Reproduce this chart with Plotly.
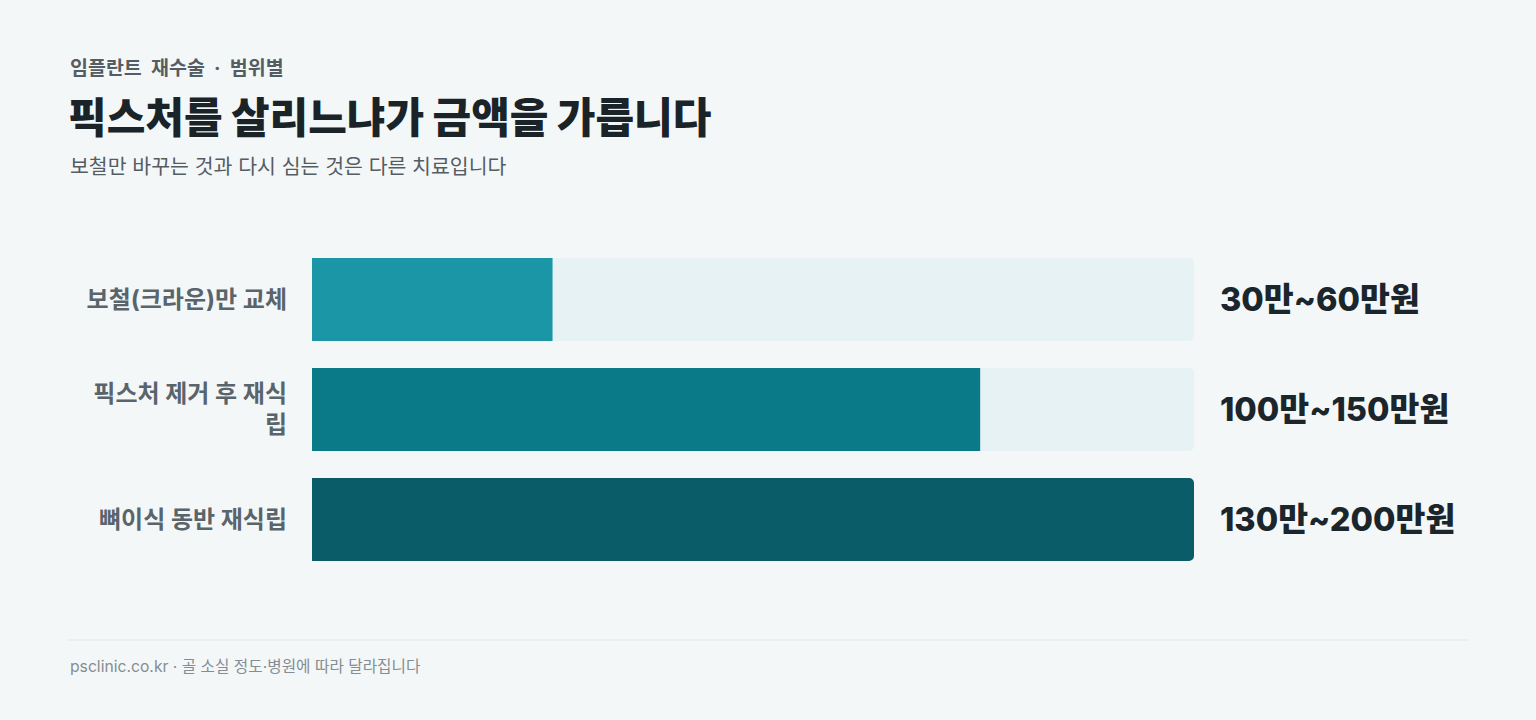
import plotly.graph_objects as go

# DATA
categories = ["보철(크라운)만 교체", "픽스처 제거 후 재식<br>립", "뼈이식 동반 재식립"]
low_values = [30, 100, 130]      # 만원
high_values = [60, 150, 200]     # 만원
mid_values = [(lo + hi) / 2 for lo, hi in zip(low_values, high_values)]
value_labels = ["30만~60만원", "100만~150만원", "130만~200만원"]
bar_colors = ["#1b96a6", "#0b7a88", "#095c68"]

W, H = 1536, 720
BG = "#f4f7f8"
KR = "Inter, 'Noto Sans CJK KR', sans-serif"

track_max = max(mid_values)

fig = go.Figure()

# track (light background bar)
fig.add_trace(go.Bar(
    y=categories, x=[track_max] * len(categories), orientation="h",
    marker=dict(color="#e7f2f4", line=dict(width=0)),
    width=0.755, hoverinfo="skip", showlegend=False,
))
# value bar (midpoint of the range)
fig.add_trace(go.Bar(
    y=categories, x=mid_values, orientation="h",
    marker=dict(color=bar_colors, line=dict(width=0)),
    width=0.755, showlegend=False,
    customdata=value_labels,
    hovertemplate="%{y}: %{customdata}<extra></extra>",
))

for cat, lab in zip(categories, value_labels):
    fig.add_annotation(
        x=track_max, y=cat, xref="x", yref="y", text=lab,
        xanchor="left", yanchor="middle", xshift=24, showarrow=False,
        font=dict(family=KR, size=32.5, color="#1a262c", weight=800),
    )

# header texts
fig.add_annotation(x=68 / W, y=1 - 68 / H, xref="paper", yref="paper",
                   text="임플란트\u00a0\u00a0재수술\u00a0\u00a0·\u00a0\u00a0범위별", showarrow=False,
                   xanchor="left", yanchor="middle",
                   font=dict(family=KR, size=19.5, color="#545d63", weight=700))
fig.add_annotation(x=66 / W, y=1 - 118 / H, xref="paper", yref="paper",
                   text="픽스처를 살리느냐가 금액을 가릅니다", showarrow=False,
                   xanchor="left", yanchor="middle",
                   font=dict(family=KR, size=42, color="#1a2328", weight=900))
fig.add_annotation(x=68 / W, y=1 - 166 / H, xref="paper", yref="paper",
                   text="보철만 바꾸는 것과 다시 심는 것은 다른 치료입니다", showarrow=False,
                   xanchor="left", yanchor="middle",
                   font=dict(family=KR, size=20.5, color="#545d63"))
# footer
fig.add_shape(type="line", xref="paper", yref="paper",
              x0=68 / W, x1=1468 / W, y0=1 - 640 / H, y1=1 - 640 / H,
              line=dict(color="#e2e7ea", width=1))
fig.add_annotation(x=68 / W, y=1 - 666 / H, xref="paper", yref="paper",
                   text="psclinic.co.kr · 골 소실 정도·병원에 따라 달라집니다", showarrow=False,
                   xanchor="left", yanchor="middle",
                   font=dict(family=KR, size=15.7, color="#858d92"))

fig.update_layout(
    width=W, height=H,
    paper_bgcolor=BG, plot_bgcolor=BG,
    margin=dict(l=0, r=0, t=0, b=0),
    barmode="overlay", barcornerradius=5,
    xaxis=dict(domain=[312 / W, 1194 / W], range=[0, track_max],
               visible=False, fixedrange=True),
    yaxis=dict(domain=[(H - 574.5) / H, (H - 244.5) / H],
               autorange="reversed", showgrid=False, zeroline=False,
               showline=False, ticks="", ticklabelstandoff=24,
               tickfont=dict(family=KR, size=24, color="#59646b", weight=700),
               fixedrange=True),
    font=dict(family=KR),
)

fig.write_html("out.html", config={"displayModeBar": False},
               post_script="document.body.style.margin='0';document.body.style.background='%s';" % BG)
